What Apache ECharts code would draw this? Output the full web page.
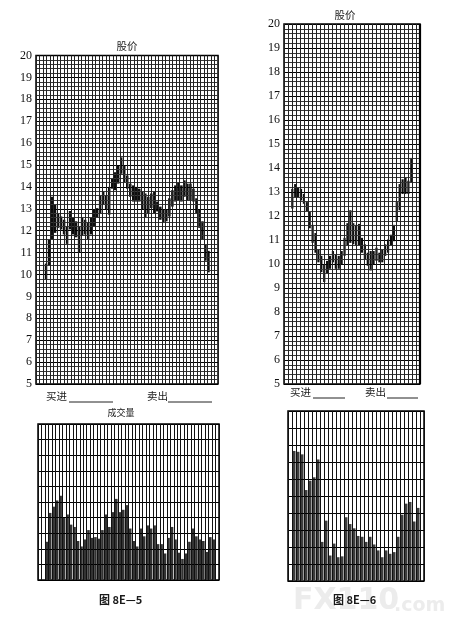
<!DOCTYPE html>
<html>
<head>
<meta charset="utf-8">
<script src="https://cdn.jsdelivr.net/npm/echarts@6/dist/echarts.min.js"></script>
<style>html,body{margin:0;padding:0;background:#fff}#c{width:463px;height:641px}</style>
</head>
<body>
<div id="c"></div>
<script>
// ---- data ----
const priceTicks = [5,6,7,8,9,10,11,12,13,14,15,16,17,18,19,20];
// figure 8E-5 price bars (low / high)
const leftLow  = [9.75,10.4,11.6,11.9,12.13,12.06,11.83,11.4,12.06,11.83,11.7,11.0,11.76,11.83,11.6,11.83,12.2,12.58,12.8,13.18,12.95,12.73,13.92,13.85,14.15,14.6,14.22,13.92,13.55,13.33,
                  13.33,13.33,12.96,12.58,12.8,13.03,12.8,12.88,12.5,12.35,12.43,12.65,13.1,13.33,13.4,13.33,13.55,13.4,13.4,13.33,12.8,12.13,11.6,10.63,10.1];
const leftHigh = [10.5,11.6,13.55,13.18,12.8,12.65,12.5,12.2,12.9,12.58,12.43,12.2,12.58,12.5,12.35,12.58,12.95,13.03,13.63,13.78,13.63,14.0,14.37,14.67,14.97,15.35,14.97,14.52,14.15,14.07,
                  14.0,13.92,13.78,13.7,13.55,13.7,13.78,13.33,13.1,12.95,12.95,13.48,13.85,14.07,14.22,14.07,14.3,14.15,14.15,13.92,13.48,12.95,12.43,11.38,11.08];
// figure 8E-6 price bars (low / high)
const rightLow  = [12.31,12.79,12.79,12.65,12.51,12.18,11.49,10.88,10.47,10.07,9.66,9.25,9.59,9.8,10.07,9.8,9.8,10.0,10.34,10.75,10.88,10.82,10.75,10.75,10.47,10.2,9.93,9.73,10.0,10.13,10.07,10.07,10.34,10.47,10.75,10.95,11.77,12.24,12.92,12.92,12.92,13.4];
const rightHigh = [13.13,13.33,13.2,13.13,12.92,12.58,12.18,11.63,11.29,10.61,10.34,10.0,10.13,10.34,10.54,10.41,10.34,10.54,11.09,11.7,12.24,11.7,11.63,11.67,11.09,10.82,10.47,10.54,10.54,10.68,10.47,10.61,10.82,11.02,11.22,11.63,12.58,13.33,13.53,13.6,13.47,14.42];
// volumes (grid units, 10 divisions)
const leftVol  = [2.45,4.3,4.7,5.1,5.4,4.0,4.2,3.55,3.4,2.5,2.15,2.6,3.2,2.7,2.75,2.65,3.2,4.2,3.4,4.35,5.2,4.35,4.5,4.8,3.3,2.5,2.15,3.3,2.8,3.5,3.3,3.5,2.3,2.3,1.7,2.7,3.4,2.6,1.75,1.35,1.7,2.45,3.3,2.8,2.6,2.5,1.8,2.75,2.6];
const rightVol = [7.65,7.6,7.45,5.35,5.9,6.1,7.15,2.3,3.55,1.5,2.2,1.4,1.45,3.75,3.35,3.1,2.65,2.6,2.3,2.6,2.15,1.8,1.4,1.8,1.6,1.7,2.6,3.9,4.55,4.65,3.5,4.3];

// ---- layout ----
const L = {
  lp: {left:36, top:55.5, width:182, height:328.5, slots:60.5, start:3.33, cols:52},
  rp: {left:284, top:24, width:136, height:360, slots:46.86, start:2.86, cols:34},
  lv: {left:38, top:424, width:181, height:156, cols:52, first:2},
  rv: {left:288, top:411, width:136, height:170, cols:34, first:1}
};
const serif = 'Liberation Serif';
const cjk = 'Noto Sans CJK SC';

function padVol(vals, cols, first){
  const out = new Array(cols).fill(null);
  vals.forEach((v,i)=>{ out[first+i] = v; });
  return out;
}
function slotNames(n){ return Array.from({length:n},(_,i)=>String(i)); }
function priceItems(lo, hi, start){ return lo.map((v,i)=>[start+i, v, hi[i]]); }

function barRender(w){
  return function(params, api){
    const x = api.value(0);
    const p1 = api.coord([x, api.value(2)]);
    const p2 = api.coord([x, api.value(1)]);
    return {type:'rect', shape:{x:p1[0]-w/2, y:p1[1], width:w, height:Math.max(1,p2[1]-p1[1])}, style:{fill:'#0d0d0d'}};
  };
}
function gridOf(g){ return {left:g.left, top:g.top, width:g.width, height:g.height, show:true, borderColor:'#000', borderWidth:1.5, backgroundColor:'transparent', containLabel:false}; }
function hiddenX(gi, max){ return {type:'value', gridIndex:gi, min:0, max:max, show:false}; }
function lineX(gi, cols){
  return {type:'value', gridIndex:gi, min:0, max:cols, interval:1, z:3,
    axisLine:{show:false}, axisTick:{show:false}, axisLabel:{show:false},
    splitLine:{show:true, lineStyle:{color:'#222', width:1}}};
}
function priceY(gi){
  return {type:'value', gridIndex:gi, min:5, max:20, interval:1, z:3,
    axisLine:{show:false}, axisTick:{show:false},
    axisLabel:{show:true, fontFamily:serif, fontSize:12, color:'#111', margin:4},
    splitLine:{show:true, lineStyle:{color:'#000', width:1.1}},
    minorTick:{show:false, splitNumber:5},
    minorSplitLine:{show:true, lineStyle:{color:'#383838', width:1}}};
}
function volX(gi, cols){
  return {type:'category', gridIndex:gi, data:slotNames(cols), boundaryGap:true, z:3,
    axisLine:{show:false}, axisTick:{show:false}, axisLabel:{show:false},
    splitLine:{show:true, interval:0, lineStyle:{color:'#111', width:1}}};
}
function volY(gi){
  return {type:'value', gridIndex:gi, min:0, max:10, interval:1, z:3,
    axisLine:{show:false}, axisTick:{show:false}, axisLabel:{show:false},
    splitLine:{show:true, lineStyle:{color:'#000', width:1.2}}};
}
function txt(x, y, s, size, opt){
  return Object.assign({type:'text', x:x, y:y, z:10, style:Object.assign({text:s, fontFamily:cjk, fontSize:size, fill:'#1a1a1a', textVerticalAlign:'middle'}, opt||{})});
}
function uline(x1, x2, y){
  return {type:'line', z:10, shape:{x1:x1, y1:y, x2:x2, y2:y}, style:{stroke:'#222', lineWidth:1}};
}

const chart = echarts.init(document.getElementById('c'), null, {renderer:'canvas'});
chart.setOption({
  animation:false,
  backgroundColor:'#fff',
  grid:[gridOf(L.lp), gridOf(L.rp), gridOf(L.lv), gridOf(L.rv)],
  xAxis:[
    hiddenX(0, L.lp.slots), lineX(0, L.lp.cols),
    hiddenX(1, L.rp.slots), lineX(1, L.rp.cols),
    volX(2, L.lv.cols), volX(3, L.rv.cols)
  ],
  yAxis:[priceY(0), priceY(1), volY(2), volY(3)],
  series:[
    {type:'custom', xAxisIndex:0, yAxisIndex:0, renderItem:barRender(2.5), encode:{x:0, y:[1,2]}, data:priceItems(leftLow, leftHigh, L.lp.start)},
    {type:'custom', xAxisIndex:2, yAxisIndex:1, renderItem:barRender(2.2), encode:{x:0, y:[1,2]}, data:priceItems(rightLow, rightHigh, L.rp.start)},
    {type:'bar', xAxisIndex:4, yAxisIndex:2, barWidth:2.6, itemStyle:{color:'#333'}, data:padVol(leftVol, L.lv.cols, L.lv.first)},
    {type:'bar', xAxisIndex:5, yAxisIndex:3, barWidth:3.0, itemStyle:{color:'#3d3d3d'}, data:padVol(rightVol, L.rv.cols, L.rv.first)}
  ],
  graphic:[
    // watermark
    {type:'text', x:293, y:601, z:1, style:{text:'FX110', fontFamily:'DejaVu Sans', fontWeight:'bold', fontSize:30, fill:'#ececec', textVerticalAlign:'middle'}},
    {type:'text', x:394, y:606, z:1, style:{text:'.com', fontFamily:'DejaVu Sans', fontWeight:'bold', fontSize:19, fill:'#ececec', textVerticalAlign:'middle'}},
    txt(127, 46, '股价', 10.5, {textAlign:'center'}),
    txt(345, 15, '股价', 10.5, {textAlign:'center'}),
    txt(46, 396, '买进', 10.5), uline(69, 113, 402),
    txt(147, 396, '卖出', 10.5), uline(168, 212, 402),
    txt(290, 392.5, '买进', 10.5), uline(313, 345, 398),
    txt(365, 392.5, '卖出', 10.5), uline(387, 418, 398),
    txt(121, 413, '成交量', 9, {textAlign:'center'}),
    txt(99, 600, '图 8E—5', 11, {fontWeight:'bold'}),
    txt(333, 600, '图 8E—6', 11, {fontWeight:'bold'}),
    {type:'line', z:10, shape:{x1:420, y1:24, x2:420, y2:384}, style:{stroke:'#000', lineWidth:2.2}}
  ]
});
</script>
</body>
</html>
